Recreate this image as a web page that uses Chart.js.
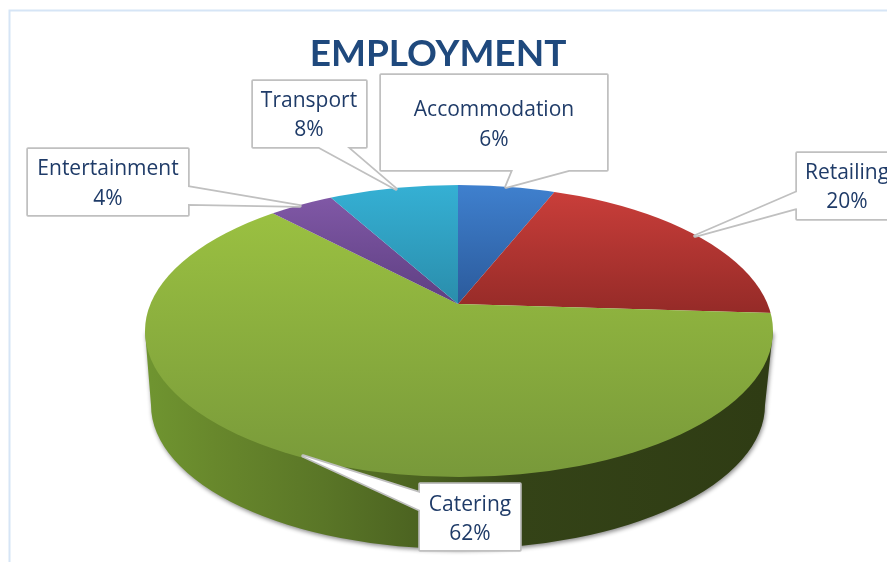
<!DOCTYPE html>
<html>
<head>
<meta charset="utf-8">
<title>Employment</title>
<script src="https://cdn.jsdelivr.net/npm/chart.js@4"></script>
<style>
    body { margin: 0; background: #fff; overflow: hidden; }
    canvas { display: block; }
</style>
</head>
<body>
<canvas id="employment" width="887" height="562"></canvas>
<script>
const categories = ['Accommodation', 'Retailing', 'Catering', 'Entertainment', 'Transport'];
const shares     = [6, 20, 62, 4, 8];

const topColors    = ['#3f80ce', '#c93e3a', '#9ac041', '#8058a6', '#35b0d4'];
const bottomColors = ['#2b5a9b', '#942a27', '#78993a', '#5e3f82', '#2a8dab'];
// where each slice gradient starts and ends on the page
const gradientTop    = [185, 192, 215, 197, 185];
const gradientBottom = [304, 315, 477, 304, 304];

// pie geometry on the page (the apex sits above the ellipse centre, as in a 3D perspective)
const apex       = { x: 458, y: 304, squash: 0.46 };
const topFace    = { x: 459, y: 331, rx: 314, ry: 146 };
const bottomFace = { x: 458, y: 405, rx: 307, ry: 144 };

// callout boxes: box [x, y, w, h], pointer [base1, tip, base2], text centre and line y's
const callouts = [
    { box: [381, 75, 226, 95],  ptr: [[569, 170], [506, 187], [513, 170]], tx: 494, ty: [110, 140] },
    { box: [797, 153, 110, 66], ptr: [[797, 192], [695, 236], [797, 208]], tx: 847, ty: [173, 202] },
    { box: [420, 484, 100, 66], ptr: [[420, 493], [303, 456], [420, 510]], tx: 470, ty: [505, 534] },
    { box: [28, 149, 160, 66],  ptr: [[188, 187], [300, 206], [188, 204]], tx: 108, ty: [169, 199] },
    { box: [253, 81, 113, 66],  ptr: [[319, 147], [396, 189], [347, 147]], tx: 309, ty: [101, 130] }
];

const frameColor = '#d6e5f6';
const labelColor = '#1f3b68';

function sliceGradient(context)
{
    const chart = context.chart;
    const i = context.dataIndex;
    if (!chart.chartArea || i === undefined) return topColors[i || 0];

    const midY = (chart.chartArea.top + chart.chartArea.bottom) / 2;
    // page y -> y inside the squashed pie
    const toPie = function (y) { return midY + (y - apex.y) / apex.squash; };

    const g = chart.ctx.createLinearGradient(0, toPie(gradientTop[i]), 0, toPie(gradientBottom[i]));
    g.addColorStop(0, topColors[i]);
    g.addColorStop(1, bottomColors[i]);
    return g;
}

function calloutPath(ctx, c)
{
    const [x, y, w, h] = c.box;
    const [a, tip, b] = c.ptr;
    ctx.beginPath();
    ctx.rect(x, y, w, h);
    ctx.moveTo(a[0], a[1]);
    ctx.lineTo(tip[0], tip[1]);
    ctx.lineTo(b[0], b[1]);
    ctx.closePath();
}

const framePlugin = {
    id: 'frame',
    beforeDraw: function (chart) {
        const ctx = chart.ctx;
        ctx.save();
        ctx.strokeStyle = frameColor;
        ctx.lineWidth = 2;
        ctx.beginPath();
        ctx.moveTo(9.5, 562);
        ctx.lineTo(9.5, 10.5);
        ctx.lineTo(887, 10.5);
        ctx.stroke();
        ctx.restore();
    }
};

const pie3dPlugin = {
    id: 'pie3d',
    beforeDatasetsDraw: function (chart) {
        const ctx = chart.ctx;

        // side wall, only the catering slice shows from the front
        ctx.save();
        const wall = ctx.createLinearGradient(bottomFace.x - bottomFace.rx, 0, bottomFace.x + bottomFace.rx, 0);
        wall.addColorStop(0,    '#6f9430');
        wall.addColorStop(0.1,  '#68882c');
        wall.addColorStop(0.28, '#5a7627');
        wall.addColorStop(0.45, '#4a6120');
        wall.addColorStop(0.6,  '#344317');
        wall.addColorStop(1,    '#2f3c14');
        ctx.fillStyle = wall;
        ctx.shadowColor = 'rgba(0,0,0,0.45)';
        ctx.shadowBlur = 4;
        ctx.shadowOffsetX = 1;
        ctx.shadowOffsetY = 2;
        ctx.beginPath();
        ctx.moveTo(topFace.x - topFace.rx, topFace.y);
        ctx.lineTo(bottomFace.x - bottomFace.rx, bottomFace.y);
        ctx.ellipse(bottomFace.x, bottomFace.y, bottomFace.rx, bottomFace.ry, 0, Math.PI, 0, true);
        ctx.lineTo(topFace.x + topFace.rx, topFace.y);
        ctx.closePath();
        ctx.fill();
        ctx.restore();

        // top face: the library's arcs, squashed around the apex and cut to the ellipse
        const arc = chart.getDatasetMeta(0).data[0];
        ctx.save();
        ctx.beginPath();
        ctx.ellipse(topFace.x, topFace.y, topFace.rx, topFace.ry, 0, 0, Math.PI * 2);
        ctx.clip();
        ctx.translate(apex.x, apex.y);
        ctx.scale(1, apex.squash);
        ctx.translate(-arc.x, -arc.y);
    },
    afterDatasetsDraw: function (chart) {
        chart.ctx.restore();
    },
    afterDraw: function (chart) {
        const ctx = chart.ctx;
        ctx.save();
        ctx.font = '21px "Open Sans"';
        ctx.textAlign = 'center';
        ctx.textBaseline = 'middle';
        ctx.lineJoin = 'round';

        callouts.forEach(function (c, i) {
            // thick stroke then fill, so box and pointer merge into one outline
            calloutPath(ctx, c);
            ctx.strokeStyle = '#c0c0c0';
            ctx.lineWidth = 3.5;
            ctx.stroke();
            ctx.fillStyle = '#fff';
            ctx.fill('nonzero');
            ctx.fillRect(c.box[0], c.box[1], c.box[2], c.box[3]);

            ctx.fillStyle = labelColor;
            ctx.fillText(categories[i], c.tx, c.ty[0]);
            ctx.fillText(shares[i] + '%', c.tx, c.ty[1]);
        });
        ctx.restore();
    }
};

new Chart(document.getElementById('employment'), {
    type: 'pie',
    data: {
        labels: categories,
        datasets: [{
            data: shares,
            backgroundColor: sliceGradient,
            borderWidth: 0,
            radius: 400,
            clip: false
        }]
    },
    options: {
        responsive: false,
        animation: false,
        layout: { padding: { right: 11 } },
        plugins: {
            legend: { display: false },
            tooltip: { enabled: false },
            title: {
                display: true,
                text: 'EMPLOYMENT',
                fullSize: false,
                color: '#1f497d',
                font: { family: 'Lato', size: 37, weight: 'bold' },
                padding: { top: 32, bottom: 10 }
            }
        }
    },
    plugins: [framePlugin, pie3dPlugin]
});
</script>
</body>
</html>
